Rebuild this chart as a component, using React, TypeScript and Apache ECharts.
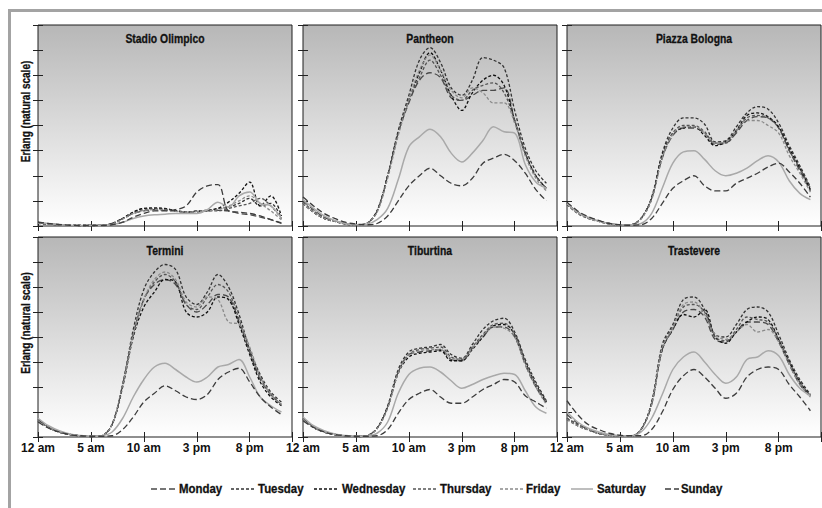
import React, { useEffect, useRef } from 'react';
import * as echarts from 'echarts';

const hours = [0, 1, 2, 3, 4, 5, 6, 7, 8, 9, 10, 11, 12, 13, 14, 15, 16, 17, 18, 19, 20, 21, 22, 23];
const days = ['Monday', 'Tuesday', 'Wednesday', 'Thursday', 'Friday', 'Saturday', 'Sunday'];
const panelNames = ['Stadio Olimpico', 'Pantheon', 'Piazza Bologna', 'Termini', 'Tiburtina', 'Trastevere'];
const xTickValues = [0, 5, 10, 15, 20];
const xTickLabels = ['12 am', '5 am', '10 am', '3 pm', '8 pm'];
const yAxisTitle = 'Erlang (natural scale)';

// Series order in each panel: Mon, Tue, Wed, Thu, Fri, Sat, Sun
const stadioOlimpico = [
  [0.12, 0.08, 0.05, 0.03, 0.02, 0.02, 0.03, 0.1, 0.3, 0.5, 0.6, 0.65, 0.62, 0.6, 0.55, 0.55, 0.6, 0.62, 0.6, 0.5, 0.45, 0.35, 0.25, 0.12],
  [0.12, 0.08, 0.05, 0.03, 0.02, 0.02, 0.03, 0.08, 0.3, 0.55, 0.7, 0.72, 0.7, 0.6, 0.55, 0.6, 0.62, 0.7, 0.75, 0.9, 1.1, 0.8, 0.9, 0.3],
  [0.1, 0.07, 0.05, 0.03, 0.02, 0.02, 0.03, 0.1, 0.3, 0.55, 0.7, 0.7, 0.68, 0.62, 0.55, 0.58, 0.6, 0.7, 0.95, 1.3, 1.75, 0.8, 1.2, 0.4],
  [0.12, 0.08, 0.05, 0.03, 0.02, 0.02, 0.03, 0.08, 0.28, 0.5, 0.65, 0.68, 0.66, 0.6, 0.55, 0.6, 0.62, 0.6, 0.7, 0.8, 0.9, 1.1, 0.8, 0.3],
  [0.12, 0.08, 0.05, 0.03, 0.02, 0.02, 0.03, 0.08, 0.28, 0.5, 0.62, 0.65, 0.63, 0.58, 0.55, 0.58, 0.6, 0.65, 0.8, 1.0, 1.2, 0.9, 0.6, 0.25],
  [0.15, 0.1, 0.06, 0.03, 0.02, 0.02, 0.02, 0.05, 0.15, 0.3, 0.4, 0.45, 0.47, 0.5, 0.5, 0.5, 0.65, 0.95, 0.75, 1.2, 1.35, 0.9, 0.8, 0.3],
  [0.15, 0.1, 0.06, 0.03, 0.02, 0.02, 0.02, 0.05, 0.15, 0.35, 0.5, 0.6, 0.6, 0.65, 0.8, 1.35, 1.6, 1.65, 0.6, 0.55, 0.5, 0.4, 0.25, 0.1],
];
const pantheon = [
  [1.0, 0.65, 0.35, 0.2, 0.1, 0.05, 0.1, 0.6, 2.0, 3.7, 4.9, 5.8, 6.1, 5.9, 5.1, 5.0, 5.2, 5.4, 5.4, 5.5, 4.2, 2.9, 2.0, 1.5],
  [0.9, 0.55, 0.3, 0.18, 0.08, 0.04, 0.1, 0.6, 2.0, 3.8, 5.2, 6.6, 7.1, 6.5, 5.5, 5.2, 5.8, 6.7, 6.6, 6.3, 4.6, 3.1, 2.2, 1.7],
  [0.9, 0.55, 0.3, 0.18, 0.08, 0.04, 0.1, 0.6, 2.0, 3.7, 5.0, 6.1, 6.9, 6.2, 5.2, 4.6, 5.3, 5.8, 6.0, 5.6, 4.2, 2.9, 2.0, 1.5],
  [0.95, 0.6, 0.35, 0.2, 0.1, 0.05, 0.1, 0.6, 2.0, 3.7, 5.0, 5.9, 6.6, 6.0, 5.2, 5.0, 5.4, 5.6, 5.7, 5.3, 4.2, 2.9, 2.0, 1.5],
  [0.9, 0.55, 0.3, 0.18, 0.08, 0.04, 0.1, 0.55, 1.9, 3.6, 5.0, 6.2, 6.8, 6.2, 5.4, 5.1, 5.5, 5.3, 4.9, 4.9, 4.1, 2.8, 1.9, 1.4],
  [1.05, 0.7, 0.4, 0.22, 0.1, 0.05, 0.07, 0.25, 0.7, 1.85, 3.15, 3.55, 3.85, 3.55, 2.9, 2.55, 2.9, 3.4, 3.95, 3.75, 3.7, 2.45, 1.75, 1.5],
  [1.15, 0.8, 0.5, 0.3, 0.15, 0.08, 0.05, 0.1, 0.4, 1.0, 1.6, 2.0, 2.3, 2.0, 1.7, 1.6, 1.9, 2.5, 2.7, 2.85, 2.6, 2.1, 1.45, 1.0],
];
const piazzaBologna = [
  [0.9, 0.55, 0.35, 0.2, 0.1, 0.05, 0.05, 0.3, 1.1, 2.7, 3.6, 3.9, 3.9, 3.7, 3.25, 3.3, 3.7, 4.2, 4.35, 4.3, 3.9, 3.0, 2.2, 1.4],
  [0.85, 0.5, 0.3, 0.18, 0.08, 0.04, 0.05, 0.3, 1.15, 2.9, 3.9, 4.3, 4.3, 4.05, 3.35, 3.4, 3.95, 4.5, 4.75, 4.65, 4.1, 3.2, 2.4, 1.55],
  [0.9, 0.55, 0.32, 0.2, 0.1, 0.05, 0.05, 0.3, 1.1, 2.8, 3.7, 3.9, 3.95, 3.6, 3.2, 3.35, 3.8, 4.4, 4.5, 4.35, 3.95, 3.1, 2.3, 1.45],
  [0.9, 0.55, 0.33, 0.2, 0.1, 0.05, 0.05, 0.3, 1.1, 2.75, 3.7, 4.0, 4.0, 3.75, 3.3, 3.3, 3.75, 4.3, 4.4, 4.3, 3.9, 3.0, 2.3, 1.5],
  [0.88, 0.52, 0.3, 0.18, 0.08, 0.04, 0.05, 0.28, 1.05, 2.7, 3.65, 3.95, 3.95, 3.7, 3.3, 3.35, 3.8, 4.2, 4.2, 4.0, 3.7, 2.8, 2.1, 1.35],
  [0.9, 0.55, 0.35, 0.2, 0.1, 0.05, 0.05, 0.1, 0.5, 1.5, 2.5, 2.95, 3.0, 2.65, 2.2, 2.0, 2.1, 2.3, 2.6, 2.8, 2.55, 1.8, 1.3, 1.05],
  [0.95, 0.6, 0.37, 0.22, 0.1, 0.05, 0.03, 0.05, 0.3, 0.9, 1.5, 1.8, 2.0, 1.6, 1.4, 1.4, 1.7, 1.9, 2.1, 2.35, 2.5, 2.15, 1.7, 1.15],
];
const termini = [
  [0.7, 0.4, 0.2, 0.1, 0.05, 0.02, 0.05, 0.5, 2.1, 4.1, 5.5, 6.1, 6.3, 6.1, 5.3, 5.0, 5.3, 5.7, 5.6, 4.6, 3.4, 2.3, 1.7, 1.3],
  [0.65, 0.38, 0.2, 0.1, 0.05, 0.02, 0.05, 0.5, 2.1, 4.3, 5.9, 6.6, 6.9, 6.7, 5.6, 5.3, 5.8, 6.5, 6.0, 4.9, 3.5, 2.5, 1.8, 1.4],
  [0.65, 0.38, 0.2, 0.1, 0.05, 0.02, 0.05, 0.5, 2.0, 4.0, 5.2, 5.8, 6.3, 6.2, 5.0, 4.8, 5.0, 5.6, 5.5, 4.5, 3.3, 2.2, 1.6, 1.25],
  [0.7, 0.4, 0.2, 0.1, 0.05, 0.02, 0.05, 0.5, 2.1, 4.1, 5.5, 6.2, 6.5, 6.2, 5.3, 5.1, 5.6, 6.1, 5.8, 4.7, 3.4, 2.4, 1.7, 1.3],
  [0.65, 0.38, 0.2, 0.1, 0.05, 0.02, 0.05, 0.5, 2.1, 4.1, 5.5, 6.3, 6.6, 6.3, 5.4, 5.2, 5.6, 5.5, 4.6, 4.5, 3.6, 2.4, 1.7, 1.3],
  [0.75, 0.45, 0.25, 0.12, 0.06, 0.03, 0.05, 0.2, 0.75, 1.6, 2.3, 2.8, 2.95, 2.7, 2.4, 2.2, 2.4, 2.8, 2.9, 3.1, 2.4, 1.6, 1.25, 1.0],
  [0.6, 0.35, 0.2, 0.1, 0.05, 0.03, 0.03, 0.05, 0.3, 0.8, 1.4, 1.75, 2.05, 1.85, 1.6, 1.5, 1.7, 2.3, 2.6, 2.75, 2.2, 1.6, 1.2, 0.9],
];
const tiburtina = [
  [0.75, 0.4, 0.2, 0.1, 0.05, 0.02, 0.05, 0.35, 1.2, 2.6, 3.3, 3.4, 3.45, 3.5, 3.1, 3.05, 3.55, 4.0, 4.4, 4.4, 4.0, 2.9, 2.0, 1.35],
  [0.7, 0.38, 0.2, 0.1, 0.05, 0.02, 0.05, 0.35, 1.25, 2.7, 3.4, 3.55, 3.6, 3.7, 3.3, 3.15, 3.7, 4.3, 4.65, 4.75, 4.2, 3.1, 2.2, 1.45],
  [0.7, 0.38, 0.2, 0.1, 0.05, 0.02, 0.05, 0.35, 1.2, 2.55, 3.2, 3.35, 3.4, 3.45, 3.05, 3.05, 3.5, 4.0, 4.45, 4.5, 4.1, 3.0, 2.1, 1.4],
  [0.72, 0.4, 0.2, 0.1, 0.05, 0.02, 0.05, 0.35, 1.2, 2.6, 3.3, 3.5, 3.55, 3.6, 3.2, 3.1, 3.6, 4.1, 4.5, 4.55, 4.1, 3.0, 2.1, 1.4],
  [0.7, 0.38, 0.2, 0.1, 0.05, 0.02, 0.05, 0.33, 1.15, 2.55, 3.3, 3.45, 3.5, 3.5, 3.15, 3.1, 3.55, 4.05, 4.4, 4.35, 4.0, 2.9, 2.0, 1.3],
  [0.8, 0.45, 0.25, 0.12, 0.06, 0.03, 0.04, 0.15, 0.6, 1.75, 2.5, 2.75, 2.8, 2.6, 2.25, 1.95, 2.1, 2.3, 2.45, 2.55, 2.5, 1.85, 1.2, 0.95],
  [0.65, 0.38, 0.2, 0.1, 0.05, 0.03, 0.03, 0.05, 0.3, 0.95, 1.5, 1.75, 1.9, 1.6, 1.35, 1.35, 1.6, 1.9, 2.1, 2.3, 2.2, 1.65, 1.4, 1.15],
];
const trastevere = [
  [0.9, 0.55, 0.3, 0.15, 0.08, 0.03, 0.03, 0.3, 1.3, 3.5, 4.3, 5.0, 5.1, 4.8, 3.9, 3.8, 4.2, 4.6, 4.6, 4.5, 3.8, 2.9, 2.1, 1.6],
  [0.75, 0.5, 0.3, 0.15, 0.08, 0.03, 0.03, 0.3, 1.4, 3.7, 4.5, 5.5, 5.6, 5.1, 4.1, 4.0, 4.5, 5.1, 5.2, 5.0, 4.1, 3.1, 2.3, 1.7],
  [0.7, 0.45, 0.28, 0.14, 0.07, 0.03, 0.03, 0.3, 1.35, 3.5, 4.3, 4.9, 4.8, 5.1, 4.0, 3.75, 4.2, 4.6, 4.8, 4.7, 3.9, 3.0, 2.2, 1.65],
  [0.75, 0.5, 0.3, 0.15, 0.08, 0.03, 0.03, 0.3, 1.35, 3.6, 4.4, 5.2, 5.3, 5.0, 4.0, 3.85, 4.3, 4.8, 4.7, 4.6, 3.9, 3.0, 2.2, 1.65],
  [0.7, 0.45, 0.28, 0.14, 0.07, 0.03, 0.03, 0.3, 1.3, 3.55, 4.35, 5.3, 5.4, 4.9, 4.1, 3.9, 4.2, 4.5, 4.2, 4.3, 3.8, 2.9, 2.1, 1.6],
  [1.0, 0.6, 0.35, 0.2, 0.1, 0.05, 0.05, 0.2, 0.75, 1.7, 2.7, 3.2, 3.4, 3.0, 2.5, 2.15, 2.4, 3.1, 3.2, 3.45, 3.25, 2.5, 1.95, 1.65],
  [1.45, 0.9, 0.5, 0.3, 0.15, 0.07, 0.05, 0.05, 0.3, 1.0, 1.9, 2.45, 2.7, 2.4, 1.95, 1.55, 1.75, 2.4, 2.7, 2.8, 2.7, 2.1, 1.6, 1.05],
];
const panelData = [stadioOlimpico, pantheon, piazzaBologna, termini, tiburtina, trastevere];

const FONT = '"Liberation Sans", Arial, sans-serif';

const dayStyles = [
  { color: '#4a4a4a', type: [6, 3], width: 1.3 },
  { color: '#333333', type: [3, 2], width: 1.3 },
  { color: '#111111', type: [3, 2], width: 1.3 },
  { color: '#555555', type: [3, 2], width: 1.3 },
  { color: '#8a8a8a', type: [3, 2], width: 1.3 },
  { color: '#a9a9a9', type: [], width: 1.5 },
  { color: '#3c3c3c', type: [6, 3], width: 1.3 },
];

const colLeft = [38, 303, 567];
const rowTop = [25, 237];
const rowHeight = [201, 200];
const panelWidth = 254;
// legend layout (pixel positions of each key's line start, line length, text start)
const legendLineX = [151, 231, 314, 413, 500, 571, 665];
const legendLineLen = [25, 24, 25, 24, 23, 22, 14];
const legendTextX = [179, 258, 342, 440, 526, 597, 681];
const legendY = 489;

export default function App() {
  const ref = useRef<HTMLDivElement>(null);
  useEffect(() => {
    if (!ref.current) return;
    const chart = echarts.init(ref.current, undefined, { renderer: 'svg' });
    const grids: any[] = [];
    const xAxes: any[] = [];
    const yAxes: any[] = [];
    const series: any[] = [];
    const graphics: any[] = [
      { type: 'rect', shape: { x: 8, y: 9, width: 814, height: 3 }, style: { fill: '#a3a3a3' }, silent: true },
      { type: 'rect', shape: { x: 8, y: 9, width: 3, height: 499 }, style: { fill: '#a3a3a3' }, silent: true },
    ];
    panelNames.forEach((name, i) => {
      const col = i % 3;
      const row = Math.floor(i / 3);
      grids.push({
        left: colLeft[col],
        top: rowTop[row],
        width: panelWidth,
        height: rowHeight[row],
        show: true,
        backgroundColor: new echarts.graphic.LinearGradient(0, 0, 0, 1, [
          { offset: 0, color: '#b7b7b7' },
          { offset: 1, color: '#ffffff' },
        ]),
        borderColor: '#1e1e1e',
        borderWidth: 1,
        containLabel: false,
        outerBoundsMode: 'none',
      });
      const tick = { show: true, inside: true, length: 5, lineStyle: { color: '#222', width: 1 } };
      xAxes.push({
        type: 'value', gridIndex: i, min: 0, max: 24, interval: 5, position: 'bottom',
        axisLine: { show: false }, axisTick: tick, splitLine: { show: false },
        axisLabel: {
          show: row === 1,
          margin: 5,
          fontFamily: FONT, fontWeight: 'bold', fontSize: 12, color: '#111',
          formatter: (v: number) => {
            const k = xTickValues.indexOf(v);
            return k >= 0 ? xTickLabels[k] : '';
          },
        },
      });
      xAxes.push({
        type: 'value', gridIndex: i, min: 0, max: 24, interval: 5, position: 'top',
        axisLine: { show: false }, axisTick: tick, splitLine: { show: false }, axisLabel: { show: false },
      });
      yAxes.push({
        type: 'value', gridIndex: i, min: 0, max: 8, interval: 1, position: 'left',
        axisLine: { show: false }, axisTick: tick, splitLine: { show: false }, axisLabel: { show: false },
      });
      yAxes.push({
        type: 'value', gridIndex: i, min: 0, max: 8, interval: 1, position: 'right',
        axisLine: { show: false }, axisTick: tick, splitLine: { show: false }, axisLabel: { show: false },
      });
      days.forEach((day, d) => {
        const st = dayStyles[d];
        series.push({
          type: 'line',
          name: day,
          xAxisIndex: 2 * i,
          yAxisIndex: 2 * i,
          data: hours.map((h, k) => [h, panelData[i][d][k]]),
          symbol: 'none',
          smooth: 0.35,
          lineStyle: { color: st.color, width: st.width, type: st.type.length ? st.type : 'solid' },
          itemStyle: { color: st.color },
          emphasis: { disabled: true },
        });
      });
      graphics.push({
        type: 'text',
        x: colLeft[col] + panelWidth / 2,
        y: rowTop[row] + 13,
        scaleX: 0.8,
        silent: true,
        style: {
          text: name, align: 'center', verticalAlign: 'middle',
          fontFamily: FONT, fontWeight: 'bold', fontSize: 13, fill: '#111',
          stroke: '#111', lineWidth: 0.3,
        },
      });
      if (col === 0) {
        graphics.push({
          type: 'text',
          x: 26,
          y: rowTop[row] + rowHeight[row] / 2 - 14,
          rotation: Math.PI / 2,
          scaleX: 0.8,
          silent: true,
          style: {
            text: yAxisTitle, align: 'center', verticalAlign: 'middle',
            fontFamily: FONT, fontWeight: 'bold', fontSize: 12.5, fill: '#111',
            stroke: '#111', lineWidth: 0.3,
          },
        });
      }
    });
    days.forEach((day, d) => {
      const st = dayStyles[d];
      graphics.push({
        type: 'line',
        silent: true,
        shape: { x1: legendLineX[d], y1: legendY, x2: legendLineX[d] + legendLineLen[d], y2: legendY },
        style: { stroke: st.color, lineWidth: st.width, lineDash: st.type.length ? st.type : null },
      });
      graphics.push({
        type: 'text',
        x: legendTextX[d],
        y: legendY,
        scaleX: 0.88,
        silent: true,
        style: {
          text: day, align: 'left', verticalAlign: 'middle',
          fontFamily: FONT, fontWeight: 'bold', fontSize: 13, fill: '#111',
          stroke: '#111', lineWidth: 0.3,
        },
      });
    });
    chart.setOption({
      animation: false,
      backgroundColor: '#ffffff',
      grid: grids,
      xAxis: xAxes,
      yAxis: yAxes,
      series,
      graphic: graphics,
    });
    return () => chart.dispose();
  }, []);
  return (
    <div
      ref={ref}
      style={{ position: 'fixed', left: 0, top: 0, width: 822, height: 508, background: '#fff' }}
    />
  );
}
